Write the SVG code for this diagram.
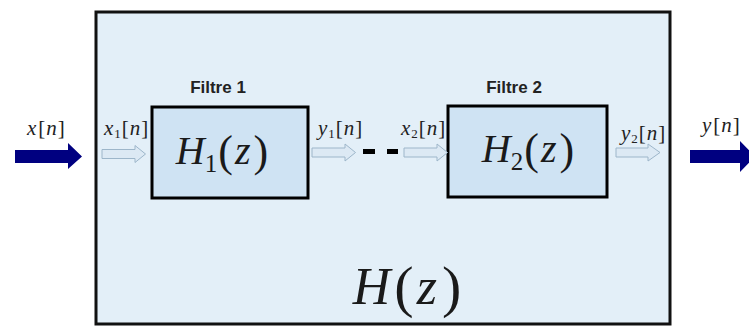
<svg xmlns="http://www.w3.org/2000/svg" width="749" height="327" viewBox="0 0 749 327">
<style>
.outer{fill:#e3eff8;stroke:#111;stroke-width:3}
.box{fill:#cfe3f3;stroke:#000;stroke-width:3}
.title{font-family:"Liberation Sans",Arial,sans-serif;font-weight:bold;font-size:17px;fill:#222;text-anchor:middle}
.sig{font-family:"Liberation Serif","DejaVu Serif",serif;font-style:italic;font-size:21px;fill:#222;letter-spacing:1px}
.sigu{font-style:normal}
.math{font-family:"Liberation Serif","DejaVu Serif",serif;font-size:40px;fill:#1a1a1a}
.big{font-family:"Liberation Serif","DejaVu Serif",serif;font-size:52px;fill:#1a1a1a}
.it{font-style:italic}
.dark{fill:#000080}
.light{fill:#dce9f4;stroke:#9db6ca;stroke-width:1}
</style>
<rect width="749" height="327" fill="#ffffff"/>
<g id="system">
<rect class="outer" x="96" y="12" width="574" height="312"/>
<text class="big" x="407" y="304" text-anchor="middle"><tspan class="it">H</tspan><tspan font-size="58" dx="4" dy="2">(</tspan><tspan class="it" dx="3" dy="-2">z</tspan><tspan font-size="58" dx="5" dy="2">)</tspan></text>
</g>
<g id="filtre1">
<text class="title" x="218" y="93">Filtre 1</text>
<rect class="box" x="152" y="107" width="156" height="91"/>
<text class="math" x="222" y="164" text-anchor="middle"><tspan class="it">H</tspan><tspan font-size="25" dy="8">1</tspan><tspan dy="-6" font-size="44" dx="1">(</tspan><tspan class="it" dy="-2" dx="2">z</tspan><tspan dx="3" dy="2" font-size="44">)</tspan></text>
</g>
<g id="filtre2">
<text class="title" x="514" y="93">Filtre 2</text>
<rect class="box" x="448" y="106" width="159" height="91"/>
<text class="math" x="528" y="162" text-anchor="middle"><tspan class="it">H</tspan><tspan font-size="25" dy="8">2</tspan><tspan dy="-6" font-size="44" dx="1">(</tspan><tspan class="it" dy="-2" dx="2">z</tspan><tspan dx="3" dy="2" font-size="44">)</tspan></text>
</g>
<g id="connectors">
<polygon class="dark" points="15,150 68,150 68,143 82,156.5 68,169 68,163 15,163"/>
<polygon class="dark" points="690,150 740,150 740,141 755,156.5 740,172 740,163 690,163"/>
<polygon class="light" points="102,149.5 135,149.5 135,145.5 145.5,154 135,162.5 135,158.5 102,158.5"/>
<polygon class="light" points="312,148 345,148 345,144 355.5,152.5 345,161 345,157 312,157"/>
<polygon class="light" points="404,148 437,148 437,144 447.5,152.5 437,161 437,157 404,157"/>
<polygon class="light" points="616,148 648,148 648,144 660,152.5 648,161 648,157 616,157"/>
<rect x="363" y="149" width="12" height="5" fill="#000"/>
<rect x="387" y="149" width="11" height="5" fill="#000"/>
</g>
<g id="labels">
<text class="sig" x="27" y="135">x<tspan class="sigu" dx="1">[</tspan>n<tspan class="sigu">]</tspan></text>
<text class="sig" x="104" y="135">x<tspan font-size="13" dy="3" class="sigu">1</tspan><tspan class="sigu" dy="-3">[</tspan>n<tspan class="sigu">]</tspan></text>
<text class="sig" x="318" y="135">y<tspan font-size="13" dy="3" class="sigu">1</tspan><tspan class="sigu" dy="-3">[</tspan>n<tspan class="sigu">]</tspan></text>
<text class="sig" x="401" y="135">x<tspan font-size="13" dy="3" class="sigu">2</tspan><tspan class="sigu" dy="-3">[</tspan>n<tspan class="sigu">]</tspan></text>
<text class="sig" x="621" y="140">y<tspan font-size="13" dy="3" class="sigu">2</tspan><tspan class="sigu" dy="-3">[</tspan>n<tspan class="sigu">]</tspan></text>
<text class="sig" x="702" y="132">y<tspan class="sigu" dx="1">[</tspan>n<tspan class="sigu">]</tspan></text>
</g>
</svg>
